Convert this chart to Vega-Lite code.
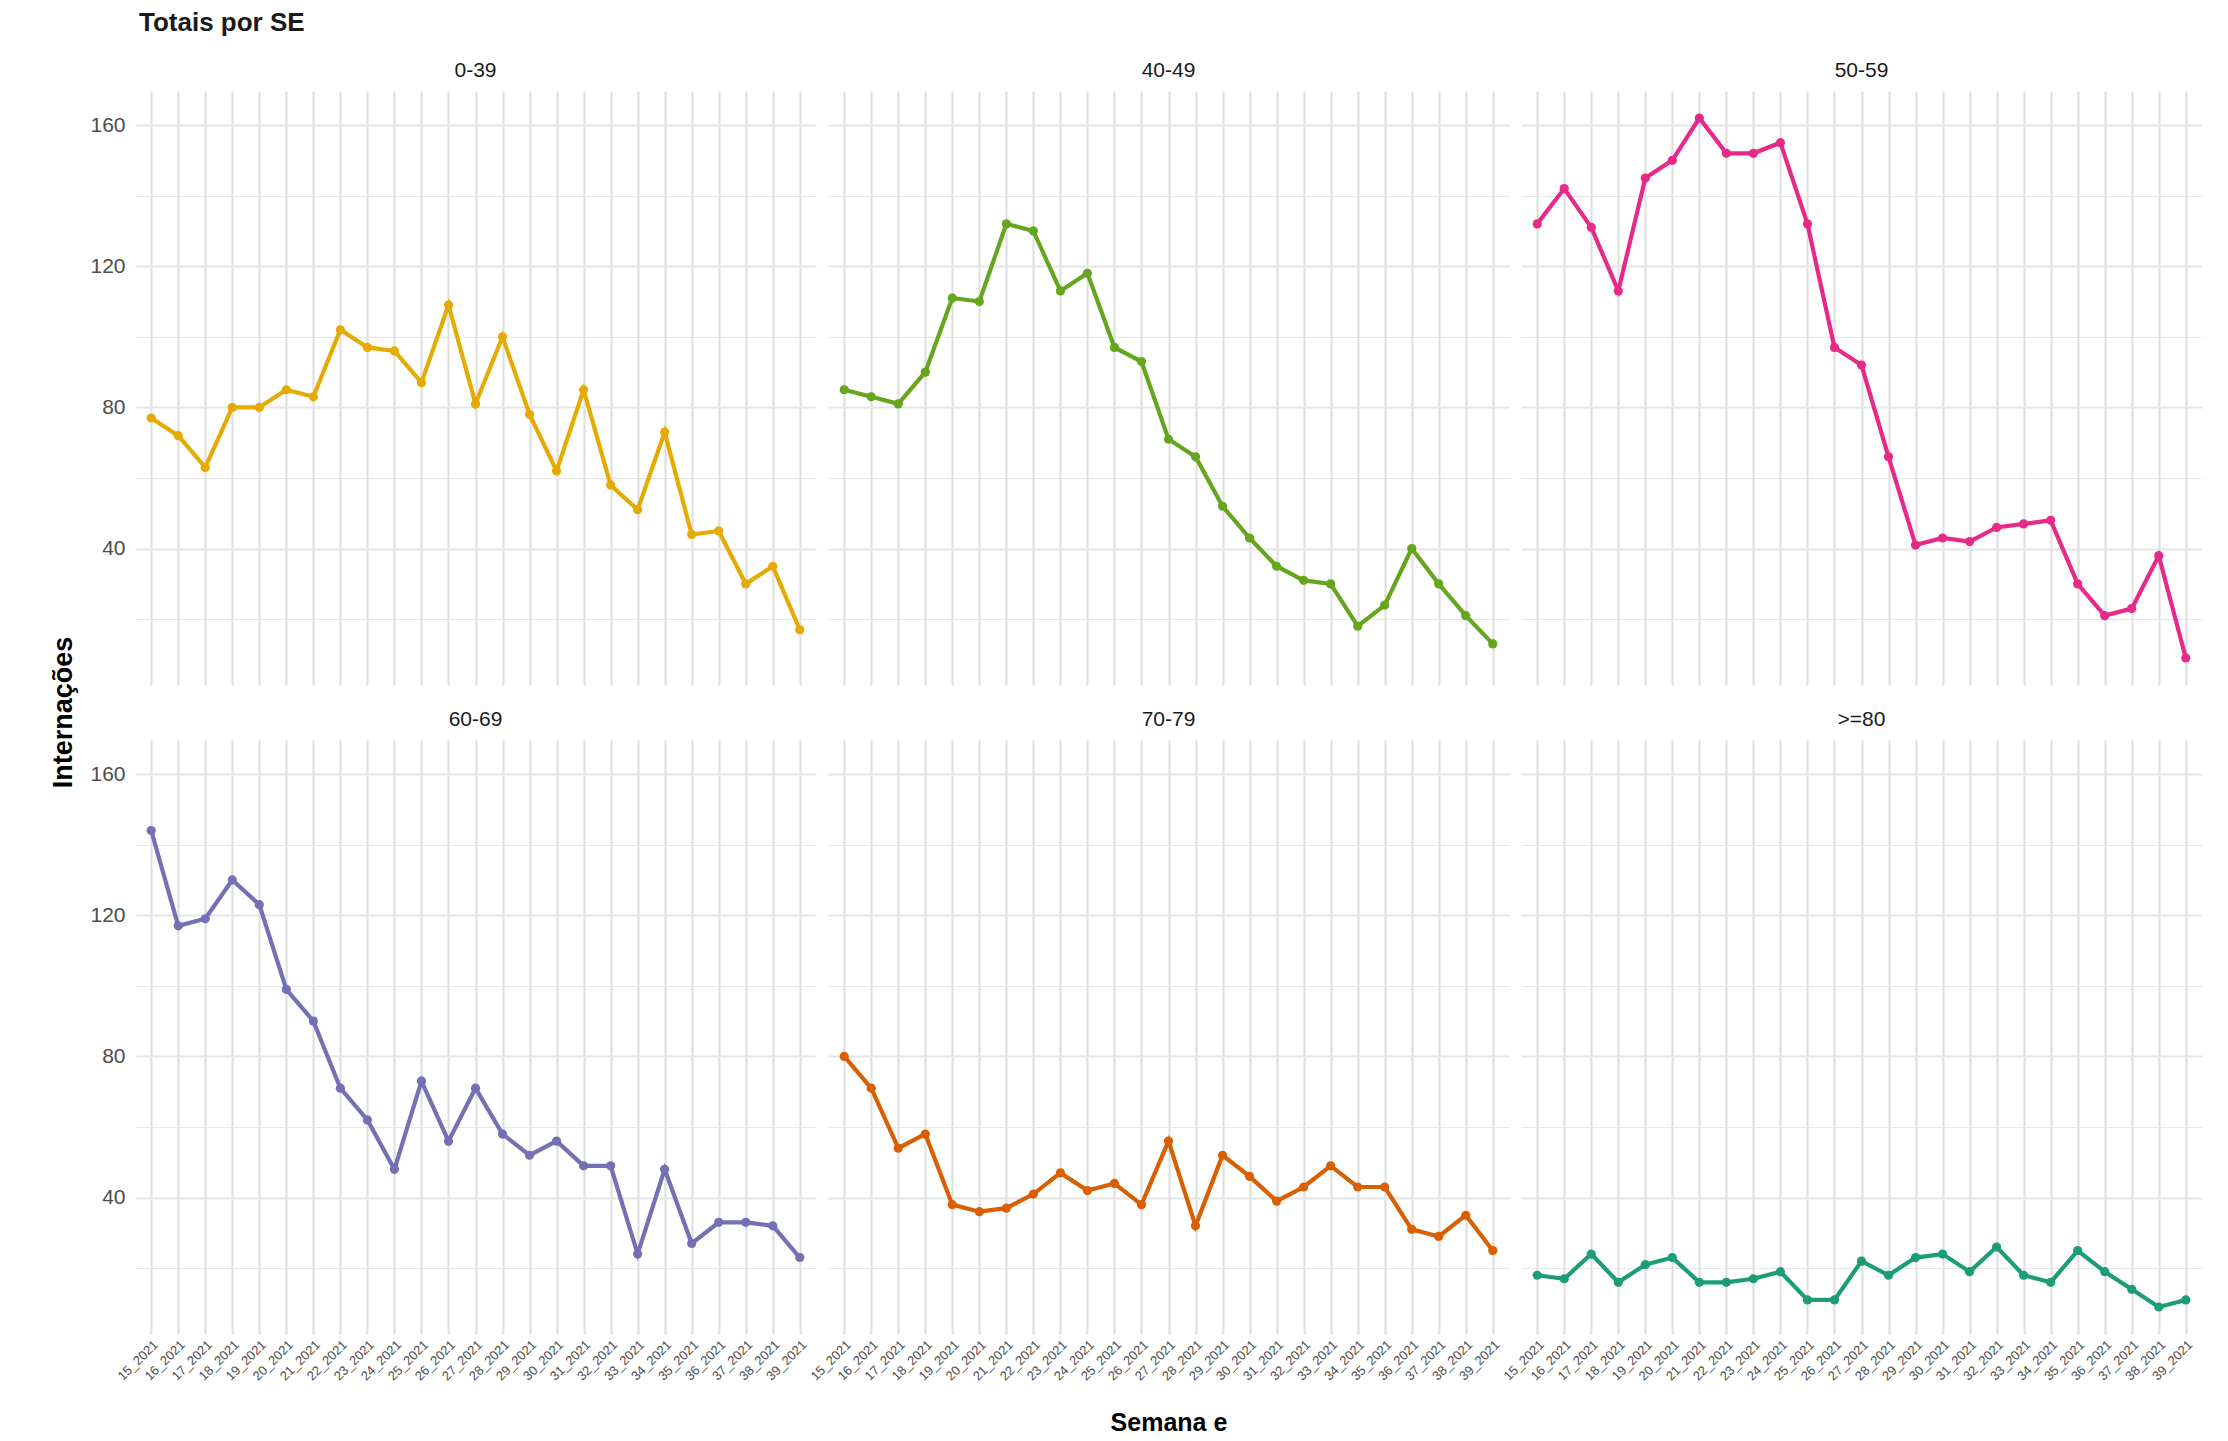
{
  "$schema": "https://vega.github.io/schema/vega-lite/v6.json",
  "background": "white",
  "padding": {"left": 49, "top": 10, "right": 11, "bottom": 0},
  "config": {
    "font": "Liberation Sans",
    "view": {"stroke": null},
    "concat": {"spacing": 0}
  },
  "title": {"text": "Totais por SE", "anchor": "start", "fontSize": 26, "fontWeight": "bold", "color": "#1a1a1a", "offset": 24, "dx": 89},
  "vconcat": [
    {
      "title": {"text": "Semana e", "orient": "bottom", "anchor": "middle", "fontSize": 25, "fontWeight": "bold", "color": "#000000", "offset": 28, "dx": 43},
      "vconcat": [
        {
          "title": {"text": "Internações", "orient": "left", "anchor": "middle", "fontSize": 27, "fontWeight": "bold", "color": "#000000", "offset": 12, "dx": 9},
          "data": {"values": [
            {"faixa":"0-39","semana":"15_2021","n":77},{"faixa":"0-39","semana":"16_2021","n":72},{"faixa":"0-39","semana":"17_2021","n":63},{"faixa":"0-39","semana":"18_2021","n":80},{"faixa":"0-39","semana":"19_2021","n":80},{"faixa":"0-39","semana":"20_2021","n":85},{"faixa":"0-39","semana":"21_2021","n":83},{"faixa":"0-39","semana":"22_2021","n":102},{"faixa":"0-39","semana":"23_2021","n":97},{"faixa":"0-39","semana":"24_2021","n":96},{"faixa":"0-39","semana":"25_2021","n":87},{"faixa":"0-39","semana":"26_2021","n":109},{"faixa":"0-39","semana":"27_2021","n":81},{"faixa":"0-39","semana":"28_2021","n":100},{"faixa":"0-39","semana":"29_2021","n":78},{"faixa":"0-39","semana":"30_2021","n":62},{"faixa":"0-39","semana":"31_2021","n":85},{"faixa":"0-39","semana":"32_2021","n":58},{"faixa":"0-39","semana":"33_2021","n":51},{"faixa":"0-39","semana":"34_2021","n":73},{"faixa":"0-39","semana":"35_2021","n":44},{"faixa":"0-39","semana":"36_2021","n":45},{"faixa":"0-39","semana":"37_2021","n":30},{"faixa":"0-39","semana":"38_2021","n":35},{"faixa":"0-39","semana":"39_2021","n":17},
            {"faixa":"40-49","semana":"15_2021","n":85},{"faixa":"40-49","semana":"16_2021","n":83},{"faixa":"40-49","semana":"17_2021","n":81},{"faixa":"40-49","semana":"18_2021","n":90},{"faixa":"40-49","semana":"19_2021","n":111},{"faixa":"40-49","semana":"20_2021","n":110},{"faixa":"40-49","semana":"21_2021","n":132},{"faixa":"40-49","semana":"22_2021","n":130},{"faixa":"40-49","semana":"23_2021","n":113},{"faixa":"40-49","semana":"24_2021","n":118},{"faixa":"40-49","semana":"25_2021","n":97},{"faixa":"40-49","semana":"26_2021","n":93},{"faixa":"40-49","semana":"27_2021","n":71},{"faixa":"40-49","semana":"28_2021","n":66},{"faixa":"40-49","semana":"29_2021","n":52},{"faixa":"40-49","semana":"30_2021","n":43},{"faixa":"40-49","semana":"31_2021","n":35},{"faixa":"40-49","semana":"32_2021","n":31},{"faixa":"40-49","semana":"33_2021","n":30},{"faixa":"40-49","semana":"34_2021","n":18},{"faixa":"40-49","semana":"35_2021","n":24},{"faixa":"40-49","semana":"36_2021","n":40},{"faixa":"40-49","semana":"37_2021","n":30},{"faixa":"40-49","semana":"38_2021","n":21},{"faixa":"40-49","semana":"39_2021","n":13},
            {"faixa":"50-59","semana":"15_2021","n":132},{"faixa":"50-59","semana":"16_2021","n":142},{"faixa":"50-59","semana":"17_2021","n":131},{"faixa":"50-59","semana":"18_2021","n":113},{"faixa":"50-59","semana":"19_2021","n":145},{"faixa":"50-59","semana":"20_2021","n":150},{"faixa":"50-59","semana":"21_2021","n":162},{"faixa":"50-59","semana":"22_2021","n":152},{"faixa":"50-59","semana":"23_2021","n":152},{"faixa":"50-59","semana":"24_2021","n":155},{"faixa":"50-59","semana":"25_2021","n":132},{"faixa":"50-59","semana":"26_2021","n":97},{"faixa":"50-59","semana":"27_2021","n":92},{"faixa":"50-59","semana":"28_2021","n":66},{"faixa":"50-59","semana":"29_2021","n":41},{"faixa":"50-59","semana":"30_2021","n":43},{"faixa":"50-59","semana":"31_2021","n":42},{"faixa":"50-59","semana":"32_2021","n":46},{"faixa":"50-59","semana":"33_2021","n":47},{"faixa":"50-59","semana":"34_2021","n":48},{"faixa":"50-59","semana":"35_2021","n":30},{"faixa":"50-59","semana":"36_2021","n":21},{"faixa":"50-59","semana":"37_2021","n":23},{"faixa":"50-59","semana":"38_2021","n":38},{"faixa":"50-59","semana":"39_2021","n":9},
            {"faixa":"60-69","semana":"15_2021","n":144},{"faixa":"60-69","semana":"16_2021","n":117},{"faixa":"60-69","semana":"17_2021","n":119},{"faixa":"60-69","semana":"18_2021","n":130},{"faixa":"60-69","semana":"19_2021","n":123},{"faixa":"60-69","semana":"20_2021","n":99},{"faixa":"60-69","semana":"21_2021","n":90},{"faixa":"60-69","semana":"22_2021","n":71},{"faixa":"60-69","semana":"23_2021","n":62},{"faixa":"60-69","semana":"24_2021","n":48},{"faixa":"60-69","semana":"25_2021","n":73},{"faixa":"60-69","semana":"26_2021","n":56},{"faixa":"60-69","semana":"27_2021","n":71},{"faixa":"60-69","semana":"28_2021","n":58},{"faixa":"60-69","semana":"29_2021","n":52},{"faixa":"60-69","semana":"30_2021","n":56},{"faixa":"60-69","semana":"31_2021","n":49},{"faixa":"60-69","semana":"32_2021","n":49},{"faixa":"60-69","semana":"33_2021","n":24},{"faixa":"60-69","semana":"34_2021","n":48},{"faixa":"60-69","semana":"35_2021","n":27},{"faixa":"60-69","semana":"36_2021","n":33},{"faixa":"60-69","semana":"37_2021","n":33},{"faixa":"60-69","semana":"38_2021","n":32},{"faixa":"60-69","semana":"39_2021","n":23},
            {"faixa":"70-79","semana":"15_2021","n":80},{"faixa":"70-79","semana":"16_2021","n":71},{"faixa":"70-79","semana":"17_2021","n":54},{"faixa":"70-79","semana":"18_2021","n":58},{"faixa":"70-79","semana":"19_2021","n":38},{"faixa":"70-79","semana":"20_2021","n":36},{"faixa":"70-79","semana":"21_2021","n":37},{"faixa":"70-79","semana":"22_2021","n":41},{"faixa":"70-79","semana":"23_2021","n":47},{"faixa":"70-79","semana":"24_2021","n":42},{"faixa":"70-79","semana":"25_2021","n":44},{"faixa":"70-79","semana":"26_2021","n":38},{"faixa":"70-79","semana":"27_2021","n":56},{"faixa":"70-79","semana":"28_2021","n":32},{"faixa":"70-79","semana":"29_2021","n":52},{"faixa":"70-79","semana":"30_2021","n":46},{"faixa":"70-79","semana":"31_2021","n":39},{"faixa":"70-79","semana":"32_2021","n":43},{"faixa":"70-79","semana":"33_2021","n":49},{"faixa":"70-79","semana":"34_2021","n":43},{"faixa":"70-79","semana":"35_2021","n":43},{"faixa":"70-79","semana":"36_2021","n":31},{"faixa":"70-79","semana":"37_2021","n":29},{"faixa":"70-79","semana":"38_2021","n":35},{"faixa":"70-79","semana":"39_2021","n":25},
            {"faixa":">=80","semana":"15_2021","n":18},{"faixa":">=80","semana":"16_2021","n":17},{"faixa":">=80","semana":"17_2021","n":24},{"faixa":">=80","semana":"18_2021","n":16},{"faixa":">=80","semana":"19_2021","n":21},{"faixa":">=80","semana":"20_2021","n":23},{"faixa":">=80","semana":"21_2021","n":16},{"faixa":">=80","semana":"22_2021","n":16},{"faixa":">=80","semana":"23_2021","n":17},{"faixa":">=80","semana":"24_2021","n":19},{"faixa":">=80","semana":"25_2021","n":11},{"faixa":">=80","semana":"26_2021","n":11},{"faixa":">=80","semana":"27_2021","n":22},{"faixa":">=80","semana":"28_2021","n":18},{"faixa":">=80","semana":"29_2021","n":23},{"faixa":">=80","semana":"30_2021","n":24},{"faixa":">=80","semana":"31_2021","n":19},{"faixa":">=80","semana":"32_2021","n":26},{"faixa":">=80","semana":"33_2021","n":18},{"faixa":">=80","semana":"34_2021","n":16},{"faixa":">=80","semana":"35_2021","n":25},{"faixa":">=80","semana":"36_2021","n":19},{"faixa":">=80","semana":"37_2021","n":14},{"faixa":">=80","semana":"38_2021","n":9},{"faixa":">=80","semana":"39_2021","n":11}
          ]},
          "facet": {
            "field": "faixa", "type": "nominal",
            "sort": ["0-39","40-49","50-59","60-69","70-79",">=80"],
            "header": {"title": null, "labelFontSize": 21, "labelColor": "#1a1a1a", "labelPadding": 10, "labelFont": "Liberation Sans"}
          },
          "columns": 3,
          "spacing": {"column": 12, "row": 24},
          "spec": {
            "width": 681,
            "height": 594,
            "encoding": {
              "x": {
                "field": "semana", "type": "ordinal",
                "scale": {"padding": 0.6},
                "axis": {"title": null, "labelAngle": -45, "labelFontSize": 13, "labelColor": "#4d4d4d", "ticks": false, "domain": false, "grid": true, "gridColor": "#e0e0e0", "gridWidth": 2.2, "labelPadding": 4}
              },
              "y": {
                "field": "n", "type": "quantitative",
                "scale": {"domain": [1.35, 169.65], "nice": false, "zero": false},
                "axis": {
                  "title": null,
                  "values": [20, 40, 60, 80, 100, 120, 140, 160],
                  "labelExpr": "datum.value % 40 === 0 ? datum.label : ''",
                  "labelFontSize": 21, "labelColor": "#4d4d4d", "ticks": false, "domain": false, "labelPadding": 10,
                  "grid": true, "gridColor": "#e6e6e6",
                  "gridWidth": {"condition": {"test": "datum.value % 40 === 0", "value": 2.2}, "value": 1.1}
                }
              },
              "color": {
                "field": "faixa", "type": "nominal", "legend": null,
                "scale": {"domain": ["0-39","40-49","50-59","60-69","70-79",">=80"], "range": ["#E6AB02","#66A61E","#E7298A","#7570B3","#D95F02","#1B9E77"]}
              }
            },
            "layer": [
              {"mark": {"type": "line", "strokeWidth": 4.2}},
              {"mark": {"type": "circle", "size": 85, "opacity": 1}}
            ]
          }
        }
      ]
    }
  ]
}
